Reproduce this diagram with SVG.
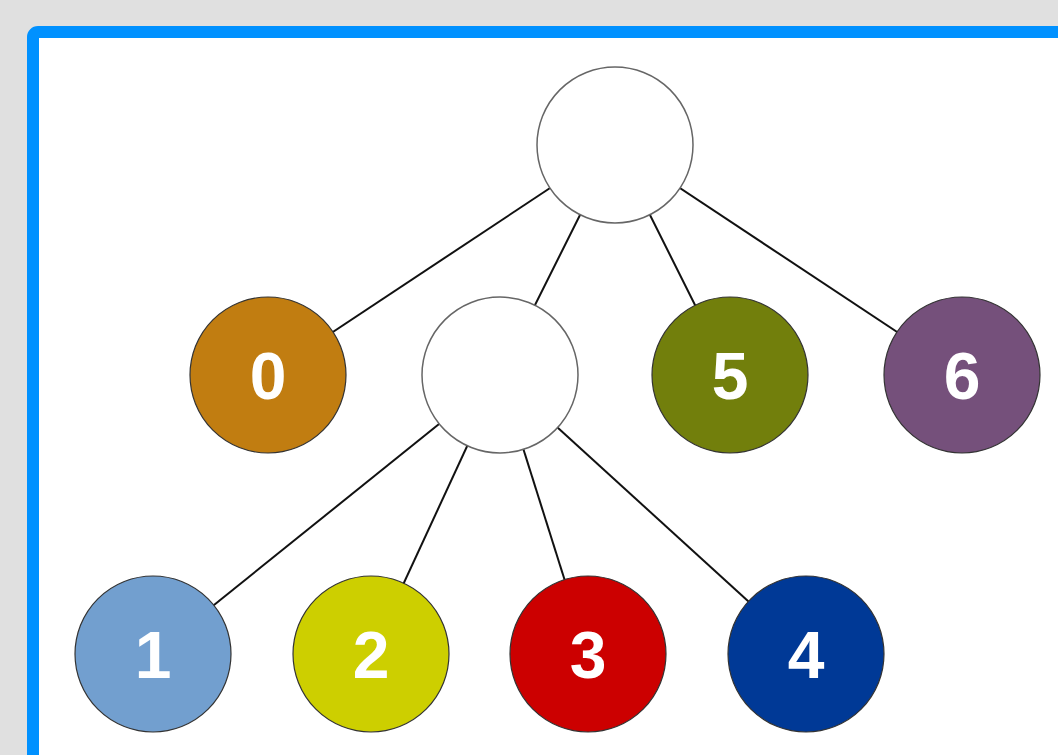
<svg xmlns="http://www.w3.org/2000/svg" width="1058" height="755" viewBox="0 0 1058 755">
<style>
.edge{stroke:#111;stroke-width:2;fill:none}
.empty{fill:#fff;stroke:#666;stroke-width:1.5}
.node{stroke:#333;stroke-width:1.2}
.lbl{font-family:"Liberation Sans",Arial,sans-serif;font-weight:bold;font-size:66px;fill:#fff;text-anchor:middle}
</style>
<rect x="0" y="0" width="1058" height="755" fill="#e0e0e0"/>
<rect x="33" y="32" width="1100" height="800" rx="5" fill="#fff" stroke="#0091ff" stroke-width="12"/>
<g id="connectors">
<line class="edge" x1="615" y1="145" x2="268" y2="375"/>
<line class="edge" x1="615" y1="145" x2="500" y2="375"/>
<line class="edge" x1="615" y1="145" x2="730" y2="375"/>
<line class="edge" x1="615" y1="145" x2="962" y2="375"/>
<line class="edge" x1="500" y1="375" x2="153" y2="654"/>
<line class="edge" x1="500" y1="375" x2="371" y2="654"/>
<line class="edge" x1="500" y1="375" x2="588" y2="654"/>
<line class="edge" x1="500" y1="375" x2="806" y2="654"/>
</g>
<g id="root"><circle class="empty" cx="615" cy="145" r="78"/></g>
<g id="mid"><circle class="empty" cx="500" cy="375" r="78"/></g>
<g id="n0"><circle class="node" cx="268" cy="375" r="78" fill="#c17d11"/><text class="lbl" x="268" y="399">0</text></g>
<g id="n5"><circle class="node" cx="730" cy="375" r="78" fill="#727f0c"/><text class="lbl" x="730" y="399">5</text></g>
<g id="n6"><circle class="node" cx="962" cy="375" r="78" fill="#75507b"/><text class="lbl" x="962" y="399">6</text></g>
<g id="n1"><circle class="node" cx="153" cy="654" r="78" fill="#729fcf"/><text class="lbl" x="153" y="678">1</text></g>
<g id="n2"><circle class="node" cx="371" cy="654" r="78" fill="#cdcf00"/><text class="lbl" x="371" y="678">2</text></g>
<g id="n3"><circle class="node" cx="588" cy="654" r="78" fill="#cc0000"/><text class="lbl" x="588" y="678">3</text></g>
<g id="n4"><circle class="node" cx="806" cy="654" r="78" fill="#003996"/><text class="lbl" x="806" y="678">4</text></g>
</svg>
